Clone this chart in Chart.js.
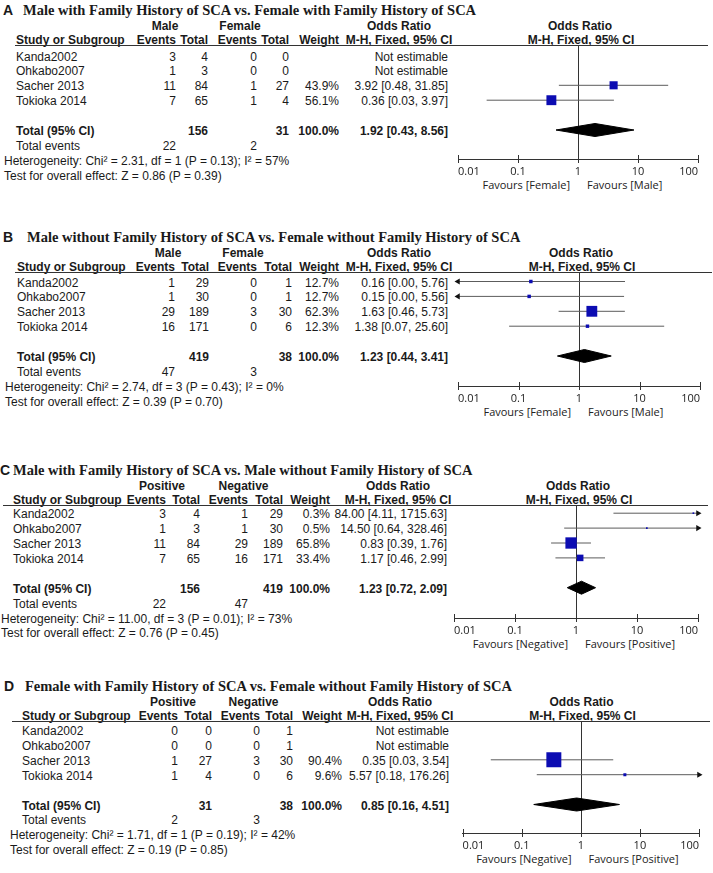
<!DOCTYPE html>
<html>
<head>
<meta charset="utf-8">
<script src="https://cdn.jsdelivr.net/npm/chart.js@4.4.0/dist/chart.umd.min.js"></script>
<style>
  body { margin: 0; background: #fff; }
  #page { position: relative; width: 713px; height: 873px; overflow: hidden;
          font-family: 'Liberation Sans', Arial, sans-serif; font-size: 12px; color: #1a1a1a; }
  .t { position: absolute; white-space: nowrap; height: 14px; line-height: 14px; }
  .b { font-weight: bold; }
  .letter { font-weight: bold; font-size: 14px; }
  .title { font-family: 'Liberation Serif', 'Times New Roman', serif; font-weight: bold; font-size: 14.5px; }
  .fav { font-family: 'Open Sans', sans-serif; font-size: 11px; color: #222; }
  .rule { position: absolute; height: 1px; background: #333; }
  canvas { position: absolute; }
</style>
</head>
<body>
<div id="page"></div>
<script>
const studyNames = ['Kanda2002', 'Ohkabo2007', 'Sacher 2013', 'Tokioka 2014'];
const panelLetters = ['A', 'B', 'C', 'D'];
const panelTitles = [
  'Male with Family History of SCA vs. Female with Family History of SCA',
  'Male without Family History of SCA vs. Female without Family History of SCA',
  'Male with Family History of SCA vs. Male without Family History of SCA',
  'Female with Family History of SCA vs. Female without Family History of SCA'
];
const groupLabels = [['Male', 'Female'], ['Male', 'Female'], ['Positive', 'Negative'], ['Positive', 'Negative']];
const favoursLabels = [
  ['Favours [Female]', 'Favours [Male]'],
  ['Favours [Female]', 'Favours [Male]'],
  ['Favours [Negative]', 'Favours [Positive]'],
  ['Favours [Negative]', 'Favours [Positive]']
];
const tickValues = [0.01, 0.1, 1, 10, 100];
const tickLabels = ['0.01', '0.1', '1', '10', '100'];

// A
const eventsA1 = [3, 1, 11, 7];
const totalA1 = [4, 3, 84, 65];
const eventsA2 = [0, 0, 1, 1];
const totalA2 = [0, 0, 27, 4];
const weightA = [null, null, 43.9, 56.1];
const orA = [null, null, 3.92, 0.36];
const lowA = [null, null, 0.48, 0.03];
const highA = [null, null, 31.85, 3.97];
const pooledA = [1.92, 0.43, 8.56];
const sumEventsA = [22, 2];
const sumTotalA = [156, 31];
const hetA = 'Chi² = 2.31, df = 1 (P = 0.13); I² = 57%';
const zA = 'Z = 0.86 (P = 0.39)';

// B
const eventsB1 = [1, 1, 29, 16];
const totalB1 = [29, 30, 189, 171];
const eventsB2 = [0, 0, 3, 0];
const totalB2 = [1, 1, 30, 6];
const weightB = [12.7, 12.7, 62.3, 12.3];
const orB = [0.16, 0.15, 1.63, 1.38];
const lowB = [0.00, 0.00, 0.46, 0.07];
const highB = [5.76, 5.56, 5.73, 25.60];
const pooledB = [1.23, 0.44, 3.41];
const sumEventsB = [47, 3];
const sumTotalB = [419, 38];
const hetB = 'Chi² = 2.74, df = 3 (P = 0.43); I² = 0%';
const zB = 'Z = 0.39 (P = 0.70)';

// C
const eventsC1 = [3, 1, 11, 7];
const totalC1 = [4, 3, 84, 65];
const eventsC2 = [1, 1, 29, 16];
const totalC2 = [29, 30, 189, 171];
const weightC = [0.3, 0.5, 65.8, 33.4];
const orC = [84.00, 14.50, 0.83, 1.17];
const lowC = [4.11, 0.64, 0.39, 0.46];
const highC = [1715.63, 328.46, 1.76, 2.99];
const pooledC = [1.23, 0.72, 2.09];
const sumEventsC = [22, 47];
const sumTotalC = [156, 419];
const hetC = 'Chi² = 11.00, df = 3 (P = 0.01); I² = 73%';
const zC = 'Z = 0.76 (P = 0.45)';

// D
const eventsD1 = [0, 0, 1, 1];
const totalD1 = [0, 0, 27, 4];
const eventsD2 = [0, 0, 3, 0];
const totalD2 = [1, 1, 30, 6];
const weightD = [null, null, 90.4, 9.6];
const orD = [null, null, 0.35, 5.57];
const lowD = [null, null, 0.03, 0.18];
const highD = [null, null, 3.54, 176.26];
const pooledD = [0.85, 0.16, 4.51];
const sumEventsD = [2, 3];
const sumTotalD = [31, 38];
const hetD = 'Chi² = 1.71, df = 1 (P = 0.19); I² = 42%';
const zD = 'Z = 0.19 (P = 0.85)';

const panels = [
  {e1: eventsA1, n1: totalA1, e2: eventsA2, n2: totalA2, w: weightA, or: orA, lo: lowA, hi: highA, pooled: pooledA, sumE: sumEventsA, sumN: sumTotalA, het: hetA, z: zA},
  {e1: eventsB1, n1: totalB1, e2: eventsB2, n2: totalB2, w: weightB, or: orB, lo: lowB, hi: highB, pooled: pooledB, sumE: sumEventsB, sumN: sumTotalB, het: hetB, z: zB},
  {e1: eventsC1, n1: totalC1, e2: eventsC2, n2: totalC2, w: weightC, or: orC, lo: lowC, hi: highC, pooled: pooledC, sumE: sumEventsC, sumN: sumTotalC, het: hetC, z: zC},
  {e1: eventsD1, n1: totalD1, e2: eventsD2, n2: totalD2, w: weightD, or: orD, lo: lowD, hi: highD, pooled: pooledD, sumE: sumEventsD, sumN: sumTotalD, het: hetD, z: zD}
];

// page layout (pixels): header rule y, first row offset, plot height, column anchors, axis ends
const layouts = [
  {line: 45, row0: 10.5, axisH: 114, cols: [16, 176, 208, 257, 289, 339, 448], groups: [165, 240], rule: [15, 708], x001: 458, x100: 698, letterX: 3, titleX: 23},
  {line: 272, row0: 9.5, axisH: 114, cols: [17, 175, 209, 257, 292, 339, 448], groups: [168, 243], rule: [15, 712], x001: 458, x100: 700, letterX: 3, titleX: 27},
  {line: 505, row0: 8.2, axisH: 113, cols: [13, 166, 200, 248, 283, 330, 447], groups: [162, 243.5], rule: [3, 708], x001: 454, x100: 698, letterX: 0, titleX: 13},
  {line: 721, row0: 9, axisH: 112, cols: [22, 178, 212, 260, 293, 342, 449], groups: [173, 253.5], rule: [12, 710], x001: 460, x100: 699, letterX: 4, titleX: 25}
];
const ROW_STEP = 14.9, TOTAL_ROW = 5, TEXT_DY = 1;
const X_MIN = 0.01, X_MAX = 100;
const CI_COLOR = '#5c5c5c', SQUARE_COLOR = '#0c0cb2';

const page = document.getElementById('page');

function put(str, x, y, align, cls) {
  const d = document.createElement('div');
  d.className = 't ' + (cls || '');
  d.textContent = str;
  if (align === 'left') {
    d.style.left = x + 'px';
  } else if (align === 'right') {
    d.style.left = (x - 300) + 'px'; d.style.width = '300px'; d.style.textAlign = 'right';
  } else {
    d.style.left = (x - 150) + 'px'; d.style.width = '300px'; d.style.textAlign = 'center';
  }
  d.style.top = (y - 7) + 'px';
  page.appendChild(d);
}

function fmtCI(or, lo, hi) {
  return or.toFixed(2) + ' [' + lo.toFixed(2) + ', ' + hi.toFixed(2) + ']';
}

// line of no effect at 1 plus decade ticks crossing the axis
const forestLines = {
  id: 'forestLines',
  beforeDatasetsDraw(chart) {
    const {ctx, chartArea, scales: {x}} = chart;
    const top = chart.$ruleTop || 0;
    ctx.save();
    ctx.strokeStyle = '#333';
    ctx.lineWidth = 1;
    ctx.beginPath();
    const px = Math.round(x.getPixelForValue(1)) + 0.5;
    ctx.moveTo(px, top);
    ctx.lineTo(px, chartArea.bottom);
    tickValues.forEach(v => {
      const tx = Math.round(x.getPixelForValue(v)) + 0.5;
      ctx.moveTo(tx, chartArea.bottom - 4);
      ctx.lineTo(tx, chartArea.bottom + 4);
    });
    ctx.stroke();
    ctx.restore();
  }
};

panels.forEach((p, k) => {
  const lay = layouts[k];
  const L = lay.line;
  const c = lay.cols;
  const rowY = r => L + lay.row0 + ROW_STEP * r;
  const textY = r => rowY(r) + TEXT_DY;
  const x1 = lay.x001 + (lay.x100 - lay.x001) / 2;
  const ciMid = c[6] - 49;

  put(panelLetters[k], lay.letterX, L - 35.5, 'left', 'letter');
  put(panelTitles[k], lay.titleX, L - 35.5, 'left', 'title');

  // header rows
  const h1 = L - 19.5, h2 = L - 5.5;
  put(groupLabels[k][0], lay.groups[0], h1, 'center', 'b');
  put(groupLabels[k][1], lay.groups[1], h1, 'center', 'b');
  put('Odds Ratio', ciMid, h1, 'center', 'b');
  put('Odds Ratio', x1 + 2, h1, 'center', 'b');
  put('Study or Subgroup', c[0], h2, 'left', 'b');
  put('Events', c[1], h2, 'right', 'b');
  put('Total', c[2], h2, 'right', 'b');
  put('Events', c[3], h2, 'right', 'b');
  put('Total', c[4], h2, 'right', 'b');
  put('Weight', c[5], h2, 'right', 'b');
  put('M-H, Fixed, 95% CI', ciMid, h2, 'center', 'b');
  put('M-H, Fixed, 95% CI', x1 + 3, h2, 'center', 'b');

  const rule = document.createElement('div');
  rule.className = 'rule';
  rule.style.left = lay.rule[0] + 'px';
  rule.style.width = (lay.rule[1] - lay.rule[0]) + 'px';
  rule.style.top = L + 'px';
  page.appendChild(rule);

  // study rows
  studyNames.forEach((name, i) => {
    const y = textY(i);
    put(name, c[0], y, 'left');
    put(String(p.e1[i]), c[1], y, 'right');
    put(String(p.n1[i]), c[2], y, 'right');
    put(String(p.e2[i]), c[3], y, 'right');
    put(String(p.n2[i]), c[4], y, 'right');
    if (p.w[i] != null) put(p.w[i].toFixed(1) + '%', c[5], y, 'right');
    put(p.or[i] == null ? 'Not estimable' : fmtCI(p.or[i], p.lo[i], p.hi[i]), c[6], y, 'right');
  });

  const yt = textY(TOTAL_ROW);
  put('Total (95% CI)', c[0], yt, 'left', 'b');
  put(String(p.sumN[0]), c[2], yt, 'right', 'b');
  put(String(p.sumN[1]), c[4], yt, 'right', 'b');
  put('100.0%', c[5], yt, 'right', 'b');
  put(fmtCI(p.pooled[0], p.pooled[1], p.pooled[2]), c[6], yt, 'right', 'b');
  put('Total events', c[0], textY(TOTAL_ROW + 1), 'left');
  put(String(p.sumE[0]), c[1], textY(TOTAL_ROW + 1), 'right');
  put(String(p.sumE[1]), c[3], textY(TOTAL_ROW + 1), 'right');
  put('Heterogeneity: ' + p.het, c[0] - 12, textY(TOTAL_ROW + 2), 'left');
  put('Test for overall effect: ' + p.z, c[0] - 12, textY(TOTAL_ROW + 3), 'left');

  // favours labels under the axis
  const yf = L + lay.axisH + 25.5;
  put(favoursLabels[k][0], x1 - 8, yf, 'right', 'fav');
  put(favoursLabels[k][1], x1 + 9, yf, 'left', 'fav');

  // forest plot
  const padL = 8, padR = 12, axisBox = 34;
  const cw = lay.x100 - lay.x001 + padL + padR;
  const chH = lay.axisH + axisBox + 10;
  const canvas = document.createElement('canvas');
  canvas.width = cw; canvas.height = chH;
  canvas.style.left = (lay.x001 - padL) + 'px';
  canvas.style.width = cw + 'px';
  canvas.style.height = chH + 'px';
  page.appendChild(canvas);

  const squares = [], squareR = [], arrows = [], arrowRot = [], datasets = [];
  p.or.forEach((v, i) => {
    if (v == null) return;
    squares.push({x: v, y: i});
    squareR.push((1.6 + 0.148 * p.w[i]) / Math.SQRT2);
    datasets.push({
      type: 'line', order: 3,
      data: [{x: Math.max(p.lo[i], X_MIN), y: i}, {x: Math.min(p.hi[i], X_MAX), y: i}],
      borderColor: CI_COLOR, borderWidth: 1, pointRadius: 0, fill: false
    });
    if (p.lo[i] < X_MIN) { arrows.push({x: X_MIN, y: i}); arrowRot.push(-90); }
    if (p.hi[i] > X_MAX) { arrows.push({x: X_MAX, y: i}); arrowRot.push(90); }
  });
  datasets.push({
    type: 'scatter', order: 0, data: squares,
    pointStyle: 'rect', pointRadius: squareR, backgroundColor: SQUARE_COLOR, borderWidth: 0
  });
  datasets.push({
    type: 'scatter', order: 1, data: arrows, clip: false,
    pointStyle: 'triangle', pointRotation: arrowRot, pointRadius: 3.5,
    backgroundColor: '#111', borderColor: '#111', borderWidth: 0
  });
  const dh = 6.5 / ROW_STEP;
  const [po, pl, ph] = p.pooled;
  datasets.push({
    type: 'line', order: 2,
    data: [{x: pl, y: TOTAL_ROW}, {x: po, y: TOTAL_ROW - dh}, {x: ph, y: TOTAL_ROW}, {x: po, y: TOTAL_ROW + dh}, {x: pl, y: TOTAL_ROW}],
    borderColor: '#000', backgroundColor: '#000', borderWidth: 1, pointRadius: 0, fill: 'shape'
  });

  const chart = new Chart(canvas, {
    type: 'scatter',
    data: {datasets},
    options: {
      responsive: false,
      animation: false,
      events: [],
      layout: {padding: {left: padL, right: padR, top: 10, bottom: 0}},
      plugins: {legend: {display: false}, tooltip: {enabled: false}},
      scales: {
        x: {
          type: 'logarithmic', min: X_MIN, max: X_MAX,
          afterBuildTicks: s => { s.ticks = tickValues.map(v => ({value: v})); },
          afterFit: s => { s.height = axisBox; },
          grid: {display: false, drawTicks: false},
          border: {display: true, color: '#333', width: 1},
          ticks: {
            callback: (v, i) => tickLabels[i],
            align: 'inner', autoSkip: false, maxRotation: 0, padding: 6,
            color: '#222', font: {family: 'Open Sans', size: 11}
          }
        },
        y: {type: 'linear', display: false, reverse: true, min: 0, max: 1}
      }
    },
    plugins: [forestLines]
  });

  // place the canvas so its axis sits axisH below the rule, then map rows to pixels
  const ca = chart.chartArea;
  const canvasTop = L + lay.axisH - ca.bottom;
  canvas.style.top = canvasTop + 'px';
  chart.$ruleTop = L - canvasTop;
  chart.options.scales.y.min = (ca.top + canvasTop - L - lay.row0) / ROW_STEP;
  chart.options.scales.y.max = (ca.bottom + canvasTop - L - lay.row0) / ROW_STEP;
  chart.update();
});
</script>
</body>
</html>
